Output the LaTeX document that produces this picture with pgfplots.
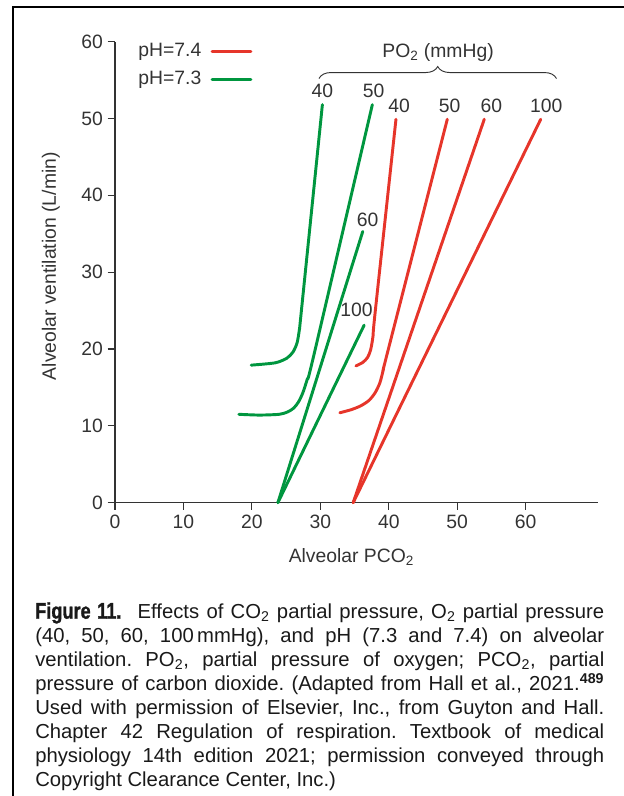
\documentclass[border=0pt]{standalone}
\usepackage{fontspec}
\setmainfont{Liberation Sans}
\newfontfamily\condfont[FakeStretch=0.8, FakeBold=1.2]{Liberation Sans Bold}
\usepackage{pgfplots}
\pgfplotsset{compat=1.18}
\usetikzlibrary{decorations.pathreplacing}
\definecolor{phred}{HTML}{E6352A}
\definecolor{phgreen}{HTML}{00963F}
\definecolor{ink}{HTML}{333333}
\newcommand\chartfont{\fontsize{14.5pt}{17pt}\selectfont}
\frenchspacing
\begin{document}
\begin{tikzpicture}
\useasboundingbox (0,0) rectangle (468pt,597pt);
% frame (top and left rules)
\draw[line width=1.6pt] (9.75pt,0pt) -- (9.75pt,591.75pt) -- (468pt,591.75pt);
\begin{axis}[
    at={(86.25pt,220pt)}, anchor=south west,
    scale only axis,
    width=361.9pt, height=345.75pt,
    xmin=0, xmax=70.5,
    ymin=0, ymax=60,
    xtick={0,10,...,60},
    ytick={0,10,...,60},
    axis lines=left,
    axis line style={-, line width=0.9pt, ink},
    tick style={line width=0.9pt, ink},
    tick align=outside,
    major tick length=5.5pt,
    clip=false,
    font=\chartfont,
    ticklabel style={font=\chartfont, text=ink},
    /pgf/number format/assume math mode=true,
    xlabel={Alveolar PCO\textsubscript{2}},
    ylabel={Alveolar ventilation (L/min)},
    every axis x label/.style={at={(axis description cs:0.49,-0.117)}, anchor=center, font=\chartfont, text=ink},
    every axis y label/.style={at={(axis description cs:-0.133,0.513)}, rotate=90, anchor=center, font=\chartfont, text=ink},
    legend plot pos=right,
    legend cell align=right,
    legend image code/.code={\path (0pt,0pt); \draw[line width=2.4pt] (5pt,0pt) -- (34pt,0pt);},
    legend style={at={(axis cs:3.0,60.3)}, anchor=north west, draw=none, fill=none,
        inner sep=0pt, row sep=3pt, font=\chartfont, text=ink,
        nodes={inner sep=2pt, text height=11pt, text depth=3pt}},
    every axis plot/.append style={line width=2.2pt, line cap=round, line join=round},
]
\addlegendimage{phred}
\addlegendentry{pH=7.4}
\addlegendimage{phgreen}
\addlegendentry{pH=7.3}

% pH 7.3
\addplot[phgreen, smooth, tension=0.45, forget plot] coordinates {
 (19.9,17.9) (23.4,18.2) (25.1,18.8) (26.0,19.6) (26.6,20.8) (26.95,22.6) (27.2,24.7) (30.3,51.8)};
\addplot[phgreen, smooth, tension=0.45, forget plot] coordinates {
 (18.1,11.5) (21.1,11.4) (24.0,11.5) (25.2,11.8) (26.1,12.3) (26.8,13.1) (27.4,14.2) (28.1,16.1) (29.0,19.0) (37.6,51.8)};
\addplot[phgreen, forget plot] coordinates {(23.8,0) (36.2,35.3)};
\addplot[phgreen, forget plot] coordinates {(23.8,0) (36.4,23.1)};

% pH 7.4
\addplot[phred, smooth, tension=0.45, forget plot] coordinates {
 (35.2,17.8) (36.2,18.25) (36.9,18.9) (37.35,19.9) (37.7,21.7) (38.0,24.7) (41.05,49.9)};
\addplot[phred, smooth, tension=0.45, forget plot] coordinates {
 (32.85,11.7) (34.5,12.1) (35.9,12.6) (37.1,13.3) (38.0,14.3) (38.7,15.6) (39.2,17.3) (39.8,19.5) (48.55,49.9)};
\addplot[phred, forget plot] coordinates {(34.8,0) (53.95,49.9)};
\addplot[phred, forget plot] coordinates {(34.8,0) (62.2,49.9)};

% PO2 annotations
\draw[decorate, decoration={brace, amplitude=9pt}, line width=0.7pt, ink]
  (axis cs:29.8,55.2) -- (axis cs:64.5,55.2);
\node[text=ink] at (axis cs:47.2,58.6) {PO\textsubscript{2} (mmHg)};
\node[text=ink] at (axis cs:30.3,53.6) {40};
\node[text=ink] at (axis cs:37.8,53.6) {50};
\node[text=ink] at (axis cs:36.9,36.8) {60};
\node[text=ink] at (axis cs:35.3,25.1) {100};
\node[text=ink] at (axis cs:41.5,51.6) {40};
\node[text=ink] at (axis cs:48.9,51.6) {50};
\node[text=ink] at (axis cs:55.0,51.6) {60};
\node[text=ink] at (axis cs:63.0,51.6) {100};
\end{axis}
% caption
\node[anchor=north west, inner sep=0pt, text width=426.75pt, align=justify,
      font=\fontsize{15.2pt}{17.97pt}\selectfont, text=black!90]
  at (26.25pt,145.5pt) {%
{\fontsize{17pt}{17.97pt}\condfont Figure 11.}\hspace{0.8em}Effects of CO\textsubscript{2} partial pressure, O\textsubscript{2} partial pressure\linebreak
(40, 50, 60, 100\,mmHg), and pH (7.3 and 7.4) on alveolar\linebreak
ventilation. PO\textsubscript{2}, partial pressure of oxygen; PCO\textsubscript{2}, partial\linebreak
pressure of carbon dioxide. (Adapted from Hall et al., 2021.\textsuperscript{\bfseries 489}\linebreak
Used with permission of Elsevier, Inc., from Guyton and Hall.\linebreak
Chapter 42 Regulation of respiration. Textbook of medical\linebreak
physiology 14th edition 2021; permission conveyed through\linebreak
Copyright Clearance Center, Inc.)};
\end{tikzpicture}
\end{document}
